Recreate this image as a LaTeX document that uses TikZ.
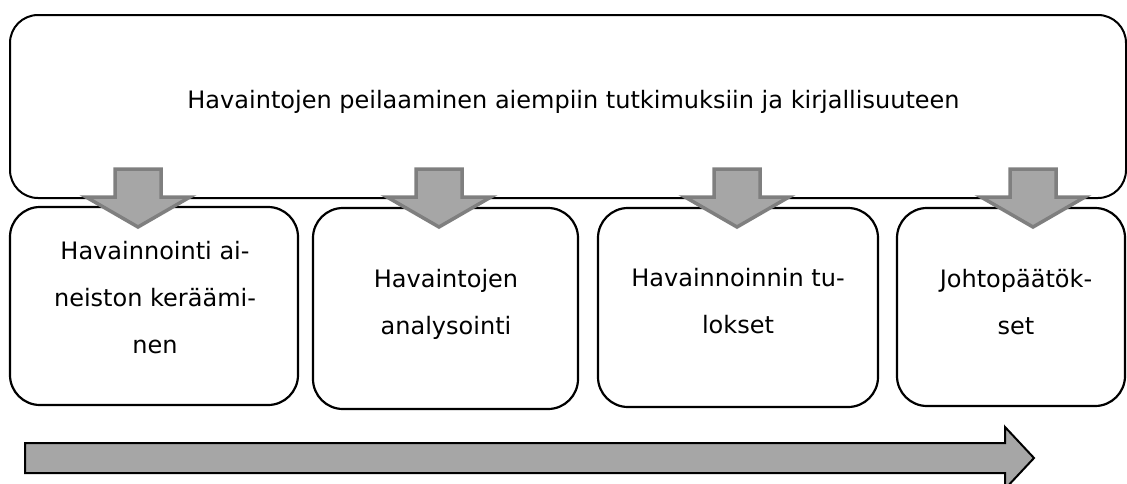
\documentclass[tikz,border=0pt]{standalone}
\usepackage{fontspec}
\setmainfont{DejaVu Sans}
\definecolor{arrfill}{HTML}{A6A6A6}
\definecolor{arrline}{HTML}{7F7F7F}
\tikzset{
  topbox/.style={rectangle, rounded corners=28pt, draw=black, line width=2pt,
                 minimum width=1116pt, minimum height=183pt},
  stage/.style={rectangle, rounded corners=30pt, draw=black, fill=white, line width=2.2pt},
  lbl/.style={align=center, inner sep=0pt, font=\fontsize{24}{47}\selectfont},
  downarr/.style={draw=arrline, fill=arrfill, line width=3.5pt},
  timearr/.style={draw=black, fill=arrfill, line width=2pt}
}

\begin{document}
\begin{tikzpicture}[x=1pt, y=-1pt]
\useasboundingbox (0,0) rectangle (1127,483);
% frame on top
\node[topbox] (ref) at (568,106.5) {};
\node[lbl] (reftxt) at (573.5,101.75) {Havaintojen peilaaminen aiempiin tutkimuksiin ja kirjallisuuteen};

% stages
\node[stage, minimum width=288pt, minimum height=198pt] (b1) at (154,306) {};
\node[stage, minimum width=265pt, minimum height=201pt] (b2) at (445.5,308.5) {};
\node[stage, minimum width=280pt, minimum height=199pt] (b3) at (738,307.5) {};
\node[stage, minimum width=228pt, minimum height=198pt] (b4) at (1011,307) {};
\node[lbl] (t1) at (155,298) {Havainnointi ai-\\neiston keräämi-\\nen};
\node[lbl] (t2) at (446,304) {Havaintojen\\analysointi};
\node[lbl] (t3) at (738,301.5) {Havainnoinnin tu-\\lokset};
\node[lbl] (t4) at (1016,302) {Johtopäätök-\\set};

% block arrows down
\foreach \c in {138,439,737,1033}
  \draw[downarr] (\c-23,169) -- (\c+23,169) -- (\c+23,197) -- (\c+52,197)
    -- (\c,227) -- (\c-52,197) -- (\c-23,197) -- cycle;

% time arrow
\draw[timearr] (25,443) -- (1005,443) -- (1005,427) -- (1034,458)
  -- (1005,489) -- (1005,473) -- (25,473) -- cycle;
\end{tikzpicture}
\end{document}
